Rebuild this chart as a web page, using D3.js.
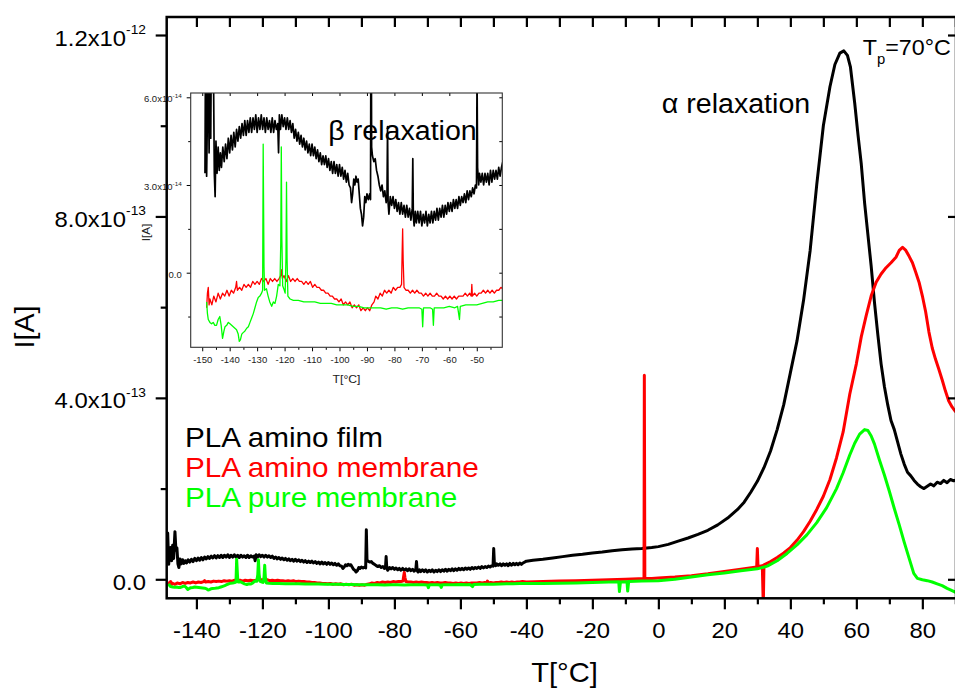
<!DOCTYPE html>
<html>
<head>
<meta charset="utf-8">
<script src="https://cdn.jsdelivr.net/npm/d3@7"></script>
<style>
  html, body { margin: 0; padding: 0; background: #fff; }
  svg { display: block; }
</style>
</head>
<body>
<script>
// Thermally stimulated depolarization currents, I in units of 1e-14 A vs T in °C
const UNIT = 1e-14;

const seriesNames = ["PLA amino film", "PLA amino membrane", "PLA pure membrane"];
const seriesColors = ["#000000", "#ff0000", "#00ff00"];

// PLA amino film
const aminoFilm = [
  [-149.0,3.4],[-148.7,10.2],[-148.4,3.3],[-148.1,5.5],[-147.8,7.0],[-147.5,4.1],[-147.2,7.5],[-146.9,4.6],
  [-146.5,10.5],[-146.2,6.4],[-145.9,6.9],[-145.6,3.4],[-145.3,2.6],[-145.0,4.5],[-144.6,3.4],[-144.2,4.3],
  [-143.8,3.5],[-143.4,4.1],[-143.0,3.6],[-142.5,4.3],[-142.0,3.8],[-141.5,4.4],[-141.0,3.9],[-140.5,4.6],
  [-140.0,4.1],[-139.5,4.7],[-139.0,4.2],[-138.5,4.8],[-138.0,4.3],[-137.5,4.9],[-137.0,4.5],[-136.5,5.0],
  [-136.0,4.6],[-135.5,5.1],[-135.0,4.7],[-134.5,5.2],[-134.0,4.7],[-133.5,5.2],[-133.0,4.8],[-132.5,5.3],
  [-132.0,4.8],[-131.5,5.3],[-131.0,4.9],[-130.5,5.4],[-130.0,4.8],[-129.5,5.3],[-129.0,4.9],[-128.5,5.4],
  [-128.0,4.9],[-127.5,5.3],[-127.0,4.8],[-126.5,5.3],[-126.0,4.9],[-125.5,5.2],[-125.0,4.8],[-124.5,5.3],
  [-124.0,4.8],[-123.5,5.2],[-123.0,4.9],[-122.5,5.1],[-122.2,4.1],[-121.9,5.4],[-121.5,4.9],[-121.0,5.4],
  [-120.5,5.0],[-120.0,5.3],[-119.5,4.9],[-119.0,5.3],[-118.5,4.9],[-118.0,5.2],[-117.5,4.8],[-117.0,5.1],
  [-116.5,4.6],[-116.0,4.9],[-115.5,4.5],[-115.0,4.8],[-114.5,4.4],[-114.0,4.7],[-113.5,4.3],[-113.0,4.6],
  [-112.5,4.2],[-112.0,4.5],[-111.5,4.1],[-111.0,4.4],[-110.5,4.0],[-110.0,4.4],[-109.5,4.0],[-109.0,4.3],
  [-108.5,3.9],[-108.0,4.2],[-107.5,3.8],[-107.0,4.1],[-106.5,3.7],[-106.0,4.0],[-105.5,3.7],[-105.0,4.0],
  [-104.5,3.6],[-104.0,3.9],[-103.5,3.5],[-103.0,3.8],[-102.5,3.4],[-102.0,3.8],[-101.5,3.4],[-101.0,3.7],
  [-100.5,3.3],[-100.0,3.7],[-99.5,3.3],[-99.0,3.6],[-98.5,3.2],[-98.0,3.5],[-97.5,3.1],[-97.0,3.4],
  [-96.5,3.0],[-96.0,2.9],[-95.6,2.4],[-95.2,2.7],[-94.8,3.2],[-94.4,3.0],[-94.0,3.3],[-93.6,3.1],
  [-93.2,3.2],[-92.8,2.7],[-92.4,2.2],[-92.0,2.0],[-91.6,1.6],[-91.2,1.9],[-90.8,2.6],[-90.4,2.4],
  [-90.0,2.7],[-89.5,2.5],[-89.0,2.7],[-88.7,2.5],[-88.5,10.9],[-88.3,4.3],[-88.0,4.0],[-87.5,3.8],
  [-87.0,3.9],[-86.5,3.5],[-86.0,3.3],[-85.5,3.0],[-85.0,2.8],[-84.5,3.0],[-84.0,2.6],[-83.5,2.8],
  [-83.0,2.4],[-82.7,2.6],[-82.5,5.0],[-82.3,2.4],[-82.0,2.0],[-81.5,2.6],[-81.0,2.3],[-80.5,2.6],
  [-80.0,2.2],[-79.5,2.5],[-79.0,2.1],[-78.5,2.4],[-78.0,2.0],[-77.5,2.4],[-77.0,2.0],[-76.5,2.3],
  [-76.0,1.9],[-75.5,2.3],[-75.0,1.9],[-74.5,2.2],[-74.0,1.8],[-73.5,2.2],[-73.3,3.9],[-73.1,1.9],
  [-72.8,1.6],[-72.4,2.1],[-72.0,1.7],[-71.5,2.1],[-71.0,1.7],[-70.5,2.1],[-70.0,1.6],[-69.5,2.0],
  [-69.0,1.7],[-68.5,2.1],[-68.0,1.6],[-67.5,2.0],[-67.0,1.7],[-66.5,2.1],[-66.0,1.7],[-65.5,2.1],
  [-65.0,1.8],[-64.5,2.2],[-64.0,1.8],[-63.5,2.2],[-63.0,1.9],[-62.5,2.3],[-62.0,1.9],[-61.5,2.3],
  [-61.0,2.0],[-60.5,2.4],[-60.0,2.1],[-59.5,2.4],[-59.0,2.1],[-58.5,2.5],[-58.0,2.2],[-57.5,2.5],
  [-57.0,2.2],[-56.5,2.6],[-56.0,2.3],[-55.5,2.6],[-55.0,2.4],[-54.5,2.7],[-54.0,2.4],[-53.5,2.8],
  [-53.0,2.5],[-52.5,2.8],[-52.0,2.6],[-51.5,2.9],[-51.0,2.7],[-50.5,3.0],[-50.1,2.9],[-49.9,6.8],
  [-49.7,3.6],[-49.3,3.0],[-49.0,3.4],[-48.5,3.1],[-48.0,3.4],[-47.5,3.0],[-47.0,3.4],[-46.5,3.1],
  [-46.0,3.4],[-45.5,3.0],[-45.0,3.5],[-44.5,3.1],[-44.0,3.5],[-43.5,3.2],[-43.0,3.5],[-42.5,3.2],
  [-42.0,3.6],[-41.5,3.3],[-41.0,3.6],
  [-40,4.0],[-38,4.2],[-35,4.4],[-32,4.7],[-29,5.0],[-26,5.3],[-23,5.5],[-20,5.8],[-17,6.0],[-14,6.3],
  [-11,6.5],[-8,6.7],[-5,6.8],[-2,7.0],[0,7.2],[3,7.7],[6,8.4],[9,9.1],[12,9.9],[15,10.8],[18,12.0],
  [21,13.5],[24,15.4],[26,17.0],[28,19.2],[30,21.6],[32,24.6],[34,28.3],[36,33.0],[38,38.5],[40,45.5],
  [42,52.5],[44,61.5],[46,72.5],[48,87],[50,100],[52,108.6],[53.5,113.5],[55,116.0],[56.2,116.5],
  [57.3,115.5],[58.2,113],[59.5,105],[60.5,98],[61.5,91.5],[62.5,83],[63.5,76],[64.5,69],[65.5,61],
  [66.5,54],[67.5,47.5],[68.5,42.5],[69.5,38.5],[70.5,35.0],[71.5,33.0],[72.5,30.3],[73.5,27.6],
  [74.5,25.4],[75.5,23.6],[76.5,22.8],[77.5,21.8],[78.5,21.0],[79.5,20.4],[80.5,20.0],[81.5,20.5],
  [82.5,21.0],[83.5,20.6],[84.5,21.4],[85.5,21.1],[86.5,21.8],[87.5,21.3],[88.5,22.0],[89.5,21.7],[90.5,22.0]
];

// PLA amino membrane
const aminoMembrane = [
  [-148.4,-1.2],[-148.1,-0.7],[-147.8,-0.5],[-147.5,-1.1],[-147.2,-0.9],[-146.5,-1.1],[-145.8,-0.8],
  [-145.0,-1.0],[-144.2,-0.7],[-143.4,-0.9],[-142.6,-0.7],[-141.8,-0.8],[-141.0,-0.6],[-140.2,-0.8],
  [-139.4,-0.6],[-138.6,-0.7],[-137.8,-0.5],[-137.5,-0.3],[-137.2,-0.6],[-136.4,-0.5],[-135.6,-0.6],
  [-134.8,-0.4],[-134.0,-0.5],[-133.2,-0.4],[-132.4,-0.5],[-131.6,-0.3],[-130.8,-0.4],[-130.0,-0.3],
  [-129.2,-0.4],[-128.4,-0.2],[-127.6,-0.3],[-126.8,-0.2],[-126.0,-0.4],[-125.2,-0.2],[-124.4,-0.3],
  [-123.6,-0.2],[-122.8,-0.3],[-122.0,-0.2],[-121.4,-0.1],[-121.1,0.1],[-120.8,-0.2],[-120.2,-0.1],
  [-119.4,-0.3],[-118.6,-0.1],[-117.8,-0.3],[-117.0,-0.2],[-116.2,-0.3],[-115.4,-0.2],[-114.6,-0.3],
  [-113.8,-0.3],[-113.0,-0.4],[-112.2,-0.3],[-111.4,-0.4],[-110.6,-0.3],[-109.8,-0.5],[-109.0,-0.4],
  [-108.2,-0.5],[-107.4,-0.5],[-106.6,-0.6],[-105.8,-0.6],[-105.0,-0.7],[-104.2,-0.7],[-103.4,-0.8],
  [-102.6,-0.8],[-101.8,-0.9],[-101.0,-0.9],[-100.2,-1.0],[-99.4,-0.9],[-98.6,-1.1],[-97.8,-1.0],
  [-97.0,-1.1],[-96.2,-1.0],[-95.4,-1.2],[-94.6,-1.1],[-93.8,-1.2],[-93.0,-1.1],[-92.2,-1.3],[-91.4,-1.2],
  [-90.6,-1.3],[-89.8,-1.2],[-89.0,-1.3],[-88.2,-1.1],[-87.4,-1.0],[-86.8,-0.8],[-86.0,-0.9],[-85.2,-0.7],
  [-84.4,-0.8],[-83.6,-0.6],[-82.8,-0.7],[-82.0,-0.6],[-81.2,-0.7],[-80.4,-0.5],[-79.6,-0.6],[-78.8,-0.5],
  [-78.0,-0.5],[-77.4,-0.4],[-77.2,0.6],[-77.0,1.5],[-76.8,0.4],[-76.5,-0.5],[-75.8,-0.6],[-75.0,-0.6],
  [-74.2,-0.7],[-73.4,-0.6],[-72.6,-0.7],[-71.8,-0.6],[-71.0,-0.7],[-70.2,-0.7],[-69.4,-0.8],[-68.6,-0.7],
  [-67.8,-0.8],[-67.0,-0.7],[-66.2,-0.8],[-65.4,-0.8],[-64.6,-0.7],[-63.8,-0.8],[-63.0,-0.8],[-62.2,-0.9],
  [-61.4,-0.8],[-60.6,-0.9],[-59.8,-0.8],[-59.0,-0.9],[-58.2,-0.8],[-57.4,-0.9],[-56.6,-0.8],[-55.8,-0.8],
  [-55.0,-0.8],[-54.2,-0.7],[-53.4,-0.8],[-52.6,-0.7],[-52.0,-0.8],[-51.8,-0.4],[-51.6,-0.8],[-50.8,-0.7],
  [-50.0,-0.8],[-49.2,-0.7],[-48.4,-0.7],[-47.6,-0.6],[-46.8,-0.7],[-46.0,-0.6],[-45.2,-0.7],[-44.4,-0.6],
  [-43.6,-0.7],[-42.8,-0.6],[-42.0,-0.6],[-41.2,-0.5],
  [-40,-0.6],[-35,-0.5],[-30,-0.4],[-25,-0.3],[-20,-0.2],[-15,-0.1],[-10,0.0],[-6,0.1],[-4.35,0.1],
  [-4.25,45.0],[-4.1,0.2],[-2,0.2],[0,0.3],[5,0.5],[10,0.8],[15,1.2],[20,1.7],[25,2.2],[29.8,2.7],
  [30.0,6.8],[30.2,2.8],[31.5,3.0],[31.8,-6.0],[32.0,3.2],[34,3.9],[36,4.8],[38,5.8],[40,7.0],[42,8.6],
  [44,10.5],[46,12.8],[48,15.4],[50,18.3],[52,22.0],[54,26.8],[56,32.5],[58,40.8],[60,47.5],[61.5,53.5],
  [63,58.2],[64.5,62.5],[66,65.5],[67.5,67.3],[69,68.7],[70.5,69.8],[72,71.0],[73,72.5],[74,73.2],
  [75,72.5],[76,71.2],[77,69.8],[78,67.7],[79,65.5],[80,62.5],[81,59.0],[82,54.5],[83,51.0],[84,48.5],
  [85,46.3],[86,44.0],[87,41.5],[88,39.3],[89,38.0],[90,37.0],[90.5,36.8]
];

// PLA pure membrane
const pureMembrane = [
  [-148.4,-1.0],[-148.1,-1.4],[-147.8,-1.6],[-147.2,-1.7],[-146.6,-1.75],[-146.0,-1.7],[-145.4,-1.8],
  [-144.8,-1.8],[-144.2,-1.6],[-143.6,-1.5],[-143.1,-1.8],[-142.6,-2.25],[-142.1,-2.0],[-141.7,-1.85],
  [-141.1,-1.8],[-140.5,-1.7],[-139.9,-1.75],[-139.3,-1.8],[-138.7,-1.85],[-138.1,-1.9],[-137.5,-1.95],
  [-136.9,-2.1],[-136.5,-2.35],[-136.1,-2.3],[-135.6,-2.1],[-135.1,-2.05],[-134.5,-2.0],[-133.8,-1.9],
  [-133.2,-1.85],[-132.6,-1.7],[-132.0,-1.55],[-131.4,-1.4],[-130.8,-1.2],[-130.2,-1.0],[-129.6,-0.85],
  [-129.0,-0.8],[-128.4,-0.7],[-128.0,-0.6],[-127.8,4.4],[-127.5,0.2],[-127.3,-0.6],[-126.6,-0.55],
  [-126.0,-0.8],[-125.4,-1.0],[-124.7,-1.15],[-124.1,-1.0],[-123.5,-1.05],[-122.9,-0.8],[-122.3,-0.4],
  [-121.7,-0.45],[-121.4,1.0],[-121.2,4.3],[-121.0,1.2],[-120.7,-0.45],[-120.1,-0.6],[-119.8,-0.7],
  [-119.5,0.5],[-119.3,3.1],[-119.1,0.5],[-118.8,-0.8],[-118.0,-0.9],[-116.8,-0.95],[-115.0,-0.95],
  [-113.0,-1.0],[-111.0,-1.0],[-109.0,-1.0],[-107.0,-1.05],[-105.0,-1.05],[-103.0,-1.05],[-101.0,-1.1],
  [-99.0,-1.1],[-97.0,-1.1],[-95.0,-1.15],[-93.0,-1.15],[-91.0,-1.2],[-89.0,-1.2],[-87.0,-1.2],
  [-85.0,-1.2],[-83.0,-1.25],[-81.0,-1.2],[-79.0,-1.2],[-77.0,-1.25],[-75.0,-1.2],[-73.0,-1.2],
  [-71.0,-1.2],[-70.0,-1.25],[-69.7,-1.85],[-69.4,-1.2],[-68.0,-1.2],[-67.0,-1.2],[-66.1,-1.25],
  [-65.8,-1.8],[-65.5,-1.2],[-64.0,-1.2],[-62.0,-1.2],[-60.0,-1.15],[-58.0,-1.2],[-57.0,-1.15],
  [-56.3,-1.6],[-56.0,-1.15],[-54.0,-1.1],[-52.0,-1.1],[-50.0,-1.1],[-48.0,-1.05],[-46.0,-1.0],
  [-44.0,-1.0],[-42.0,-0.95],[-41.0,-0.95],
  [-40,-0.95],[-35,-0.9],[-30,-0.85],[-25,-0.8],[-20,-0.7],[-15,-0.6],[-12,-0.55],[-11.8,-2.7],
  [-11.5,-0.6],[-9.5,-0.55],[-9.3,-2.6],[-9.0,-0.5],[-5,-0.4],[0,-0.3],[5,0.0],[10,0.5],[15,1.0],
  [20,1.4],[25,1.9],[30,2.3],[33,2.9],[36,4.1],[39,5.7],[42,7.6],[45,9.8],[48,12.5],[51,15.8],[54,20.0],
  [56,23.5],[58,27.4],[59.5,30.0],[61,32.0],[62.5,33.0],[63.5,32.8],[64.5,31.6],[65.5,29.8],[67,26.3],
  [68.5,23.0],[70,19.4],[71.5,15.6],[73,12.0],[74.5,8.2],[76,4.6],[77.4,1.3],[78.5,0.2],[80,-0.1],
  [81.5,-0.3],[83,-0.6],[84.5,-1.0],[86,-1.4],[87.5,-2.0],[89,-2.5],[90.5,-3.0]
];

const seriesData = [aminoFilm, aminoMembrane, pureMembrane];

// Main axes ticks
const xMajorTicks = [-140, -120, -100, -80, -60, -40, -20, 0, 20, 40, 60, 80];
const xMinorTicks = [-130, -110, -90, -70, -50, -30, -10, 10, 30, 50, 70, 90];
const xTopTicks = [-140, -130, -120, -110, -100, -90, -80, -70, -60, -50, -40, -30, -20, -10, 0, 10, 20, 30, 40, 50, 60, 70, 80, 90];
const yMajorTicks = [0, 4e-13, 8e-13, 1.2e-12];
const yMinorTicks = [2e-13, 6e-13, 1.0e-12];
const yTickMantissa = ["0.0", "4.0x10", "8.0x10", "1.2x10"];
const yTickExponent = ["", "-13", "-13", "-12"];

// Inset axes ticks
const insetXMajor = [-150, -140, -130, -120, -110, -100, -90, -80, -70, -60, -50];
const insetXMinor = [-145, -135, -125, -115, -105, -95, -85, -75, -65, -55, -45];
const insetYMajor = [0, 3e-14, 6e-14];
const insetYMinor = [-1.5e-14, 1.5e-14, 4.5e-14];
const insetYMantissa = ["0.0", "3.0x10", "6.0x10"];
const insetYExponent = ["", "-14", "-14"];

const FONT = "'Liberation Sans', Arial, Helvetica, sans-serif";
const SX = 1.06; // slight horizontal widening of the lettering
const plainInt = d => String(d); // hyphen-minus, as in the printed axis

const W = 955, H = 689;
const svg = d3.select("body").append("svg")
  .attr("width", W).attr("height", H)
  .style("font-family", FONT);

// ---------- main plot ----------
const M = { left: 166.7, right: 956, top: 17, bottom: 598.3 };
const x = d3.scaleLinear().domain([-149, 90.2]).range([M.left, M.right]);
const y = d3.scaleLinear().domain([-4.19e-14, 1.2397e-12]).range([M.bottom, M.top]);

svg.append("defs").append("clipPath").attr("id", "clipMain")
  .append("rect").attr("x", M.left).attr("y", M.top)
  .attr("width", M.right - M.left).attr("height", M.bottom - M.top);

const line = d3.line().x(d => x(d[0])).y(d => y(d[1] * UNIT));
const mainLines = svg.append("g").attr("clip-path", "url(#clipMain)");
seriesData.forEach((data, i) => {
  mainLines.append("path")
    .datum(data)
    .attr("d", line)
    .attr("fill", "none")
    .attr("stroke", seriesColors[i])
    .attr("stroke-width", 3)
    .attr("stroke-linejoin", "round");
});

// ---------- inset ----------
const I = { left: 190.7, right: 502.3, top: 93, bottom: 347.3 };
const xi = d3.scaleLinear().domain([-154.2, -40.7]).range([I.left, I.right]);
const yi = d3.scaleLinear().domain([-2.552e-14, 6.147e-14]).range([I.bottom, I.top]);

svg.select("defs").append("clipPath").attr("id", "clipInset")
  .append("rect").attr("x", I.left).attr("y", I.top)
  .attr("width", I.right - I.left).attr("height", I.bottom - I.top);

const inset = svg.append("g");
inset.append("rect")
  .attr("x", I.left).attr("y", I.top)
  .attr("width", I.right - I.left).attr("height", I.bottom - I.top)
  .attr("fill", "#fff");

const lineInset = d3.line().x(d => xi(d[0])).y(d => yi(d[1] * UNIT));
const insetLines = inset.append("g").attr("clip-path", "url(#clipInset)");
const insetWidths = [1.7, 1.3, 1.3];
seriesData.forEach((data, i) => {
  insetLines.append("path")
    .datum(data)
    .attr("d", lineInset)
    .attr("fill", "none")
    .attr("stroke", seriesColors[i])
    .attr("stroke-width", insetWidths[i])
    .attr("stroke-linejoin", "round");
});

function styleAxis(g, width) {
  g.select(".domain").remove();
  g.selectAll(".tick line").attr("stroke", "#000").attr("stroke-width", width);
}

// inset bottom axis
const ixb = inset.append("g").attr("transform", `translate(0,${I.bottom})`)
  .call(d3.axisBottom(xi).tickValues(insetXMajor).tickSize(4).tickFormat(plainInt));
styleAxis(ixb, 1);
ixb.selectAll(".tick text")
  .attr("y", null).attr("dy", null)
  .attr("transform", `translate(0,16) scale(${SX},1)`)
  .attr("font-size", 9).attr("font-family", FONT).attr("fill", "#222");
const ixbm = inset.append("g").attr("transform", `translate(0,${I.bottom})`)
  .call(d3.axisBottom(xi).tickValues(insetXMinor).tickSize(2.5).tickFormat(""));
styleAxis(ixbm, 1);

// inset top ticks (inward)
const ixt = inset.append("g").attr("transform", `translate(0,${I.top})`)
  .call(d3.axisTop(xi).tickValues(insetXMajor).tickSize(-3).tickFormat(""));
styleAxis(ixt, 1);

// inset left axis
const iyl = inset.append("g").attr("transform", `translate(${I.left},0)`)
  .call(d3.axisLeft(yi).tickValues(insetYMajor).tickSize(4).tickFormat(""));
styleAxis(iyl, 1);
iyl.selectAll(".tick text").each(function (d, i) {
  const t = d3.select(this)
    .attr("x", null).attr("dy", null)
    .attr("text-anchor", "end")
    .attr("transform", `translate(-9,4.4) scale(${SX},1)`)
    .attr("font-size", 9).attr("fill", "#222");
  t.append("tspan").text(insetYMantissa[i]);
  if (insetYExponent[i]) t.append("tspan").attr("dy", -4).attr("font-size", 6).text(insetYExponent[i]);
});
const iylm = inset.append("g").attr("transform", `translate(${I.left},0)`)
  .call(d3.axisLeft(yi).tickValues(insetYMinor).tickSize(2.5).tickFormat(""));
styleAxis(iylm, 1);

// inset right ticks (inward)
const iyr = inset.append("g").attr("transform", `translate(${I.right},0)`)
  .call(d3.axisRight(yi).tickValues(insetYMajor.concat(insetYMinor)).tickSize(-3).tickFormat(""));
styleAxis(iyr, 1);

inset.append("rect")
  .attr("x", I.left).attr("y", I.top)
  .attr("width", I.right - I.left).attr("height", I.bottom - I.top)
  .attr("fill", "none").attr("stroke", "#333").attr("stroke-width", 1.1);

// inset titles
inset.append("text")
  .attr("transform", `translate(${(I.left + I.right) / 2},382.5) scale(${SX},1)`)
  .attr("text-anchor", "middle").attr("font-size", 11.5).attr("fill", "#222")
  .text("T[°C]");
inset.append("text")
  .attr("transform", `translate(149.7,232.5) rotate(-90) scale(${SX},1)`)
  .attr("text-anchor", "middle").attr("font-size", 11).attr("fill", "#222")
  .text("I[A]");
inset.append("text")
  .attr("transform", `translate(328.3,140) scale(${SX},1)`)
  .attr("font-size", 27).attr("fill", "#000")
  .text("β relaxation");

// ---------- main axes ----------
const gxb = svg.append("g").attr("transform", `translate(0,${M.bottom})`)
  .call(d3.axisBottom(x).tickValues(xMajorTicks).tickSize(11).tickFormat(plainInt));
styleAxis(gxb, 2.2);
gxb.selectAll(".tick text")
  .attr("y", null).attr("dy", null)
  .attr("transform", `translate(0,39.7) scale(${SX},1)`)
  .attr("font-size", 22.5).attr("fill", "#000");
const gxbm = svg.append("g").attr("transform", `translate(0,${M.bottom})`)
  .call(d3.axisBottom(x).tickValues(xMinorTicks).tickSize(6).tickFormat(""));
styleAxis(gxbm, 2.2);

const gxt = svg.append("g").attr("transform", `translate(0,${M.top})`)
  .call(d3.axisTop(x).tickValues(xTopTicks).tickSize(-10).tickFormat(""));
styleAxis(gxt, 2.2);

const gyl = svg.append("g").attr("transform", `translate(${M.left},0)`)
  .call(d3.axisLeft(y).tickValues(yMajorTicks).tickSize(11).tickFormat(""));
styleAxis(gyl, 2.2);
gyl.selectAll(".tick text").each(function (d, i) {
  const t = d3.select(this)
    .attr("x", null).attr("dy", null)
    .attr("text-anchor", "end")
    .attr("transform", `translate(-20.7,10) scale(${SX},1)`)
    .attr("font-size", 22.5).attr("fill", "#000");
  t.append("tspan").text(yTickMantissa[i]);
  if (yTickExponent[i]) t.append("tspan").attr("dy", -11.7).attr("font-size", 13).text(yTickExponent[i]);
});
const gylm = svg.append("g").attr("transform", `translate(${M.left},0)`)
  .call(d3.axisLeft(y).tickValues(yMinorTicks).tickSize(6).tickFormat(""));
styleAxis(gylm, 2.2);

const gyr = svg.append("g").attr("transform", `translate(${M.right},0)`)
  .call(d3.axisRight(y).tickValues(yMajorTicks).tickSize(-8).tickFormat(""));
styleAxis(gyr, 2.2);

svg.append("rect")
  .attr("x", M.left).attr("y", M.top)
  .attr("width", M.right - M.left).attr("height", M.bottom - M.top)
  .attr("fill", "none").attr("stroke", "#000").attr("stroke-width", 2.5);

// axis titles
svg.append("text")
  .attr("transform", `translate(564.5,682) scale(${SX},1)`)
  .attr("text-anchor", "middle").attr("font-size", 27.5).attr("fill", "#000")
  .text("T[°C]");
svg.append("text")
  .attr("transform", `translate(33.5,327) rotate(-90) scale(${SX},1)`)
  .attr("text-anchor", "middle").attr("font-size", 27).attr("fill", "#000")
  .text("I[A]");

// annotations
svg.append("text")
  .attr("transform", `translate(661.7,112.7) scale(${SX},1)`)
  .attr("font-size", 27).attr("fill", "#000")
  .text("α relaxation");
const tp = svg.append("text")
  .attr("transform", `translate(862.7,55) scale(${SX},1)`)
  .attr("font-size", 22).attr("fill", "#000");
tp.append("tspan").text("T");
tp.append("tspan").attr("dy", 8.5).attr("font-size", 14).text("p");
tp.append("tspan").attr("dy", -8.5).text("=70°C");

// legend
const legend = svg.append("g");
seriesNames.forEach((name, i) => {
  legend.append("text")
    .attr("transform", `translate(185,${447 + i * 30}) scale(1.08,1)`)
    .attr("font-size", 27.5).attr("fill", seriesColors[i])
    .text(name);
});
</script>
</body>
</html>
